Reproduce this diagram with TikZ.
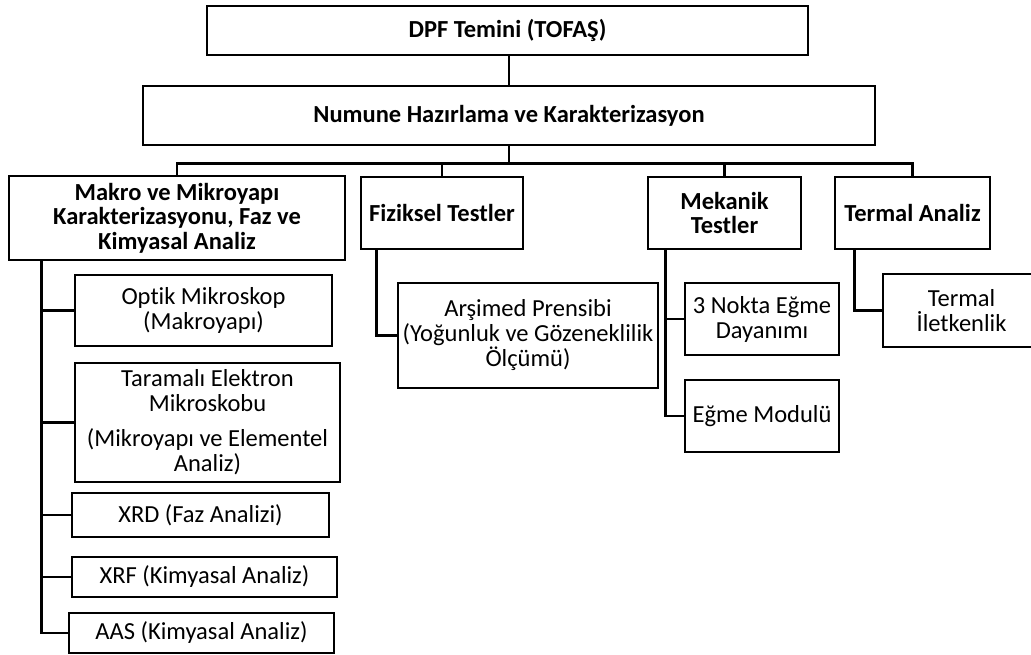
\documentclass[tikz,border=0pt]{standalone}
\usepackage{fontspec}
\setmainfont[Ligatures=NoCommon]{Carlito}
\begin{document}
\begin{tikzpicture}[x=1pt,y=-1pt,
  box/.style={draw=black, line width=2.6pt, fill=white, inner sep=0pt, align=center,
     font=\fontsize{24.5}{25}\selectfont},
  bbox/.style={box, font=\fontsize{24.5}{24.5}\selectfont\bfseries},
  conn/.style={draw=black, line width=2.6pt}]
\useasboundingbox (0,0) rectangle (1031,655);
\clip (0,0) rectangle (1031,655);
\fill[white] (0,0) rectangle (1031,655);
% level 0/1
\node[bbox, minimum width=601pt, minimum height=49pt] (top) at (507.5,30.5) {DPF Temini (TOFAŞ)};
\node[bbox, minimum width=732pt, minimum height=59pt] (num) at (509,115.5) {Numune Hazırlama ve Karakterizasyon};
% level 2
\node[bbox, minimum width=336pt, minimum height=84pt] (makro) at (177,218) {Makro ve Mikroyapı\\Karakterizasyonu, Faz ve\\Kimyasal Analiz};
\node[bbox, minimum width=162pt, minimum height=72pt] (fiz) at (442,213) {Fiziksel Testler};
\node[bbox, minimum width=153pt, minimum height=72pt] (mek) at (724.5,213) {Mekanik\\Testler};
\node[bbox, minimum width=155pt, minimum height=72pt] (term) at (912.5,213) {Termal Analiz};
% level 3
\node[box, minimum width=257pt, minimum height=71pt] (optik) at (203.5,310.5) {Optik Mikroskop\\(Makroyapı)};
\node[box, minimum width=265pt, minimum height=119pt] (tara) at (207.5,422.5) {Taramalı Elektron\\Mikroskobu\\[10pt](Mikroyapı ve Elementel\\Analiz)};
\node[box, minimum width=257pt, minimum height=44pt] (xrd) at (200.5,515) {XRD (Faz Analizi)};
\node[box, minimum width=265pt, minimum height=40pt] (xrf) at (204.5,577) {XRF (Kimyasal Analiz)};
\node[box, minimum width=265pt, minimum height=40pt] (aas) at (201.5,633) {AAS (Kimyasal Analiz)};
\node[box, minimum width=260pt, minimum height=105pt] (arsi) at (528,335.5) {Arşimed Prensibi\\(Yoğunluk ve Gözeneklilik\\Ölçümü)};
\node[box, minimum width=154pt, minimum height=72pt] (nokta) at (762,319) {3 Nokta Eğme\\Dayanımı};
\node[box, minimum width=154pt, minimum height=72pt] (egme) at (762,416) {Eğme Modulü};
\node[box, minimum width=157pt, minimum height=73pt] (ilet) at (961.5,310.5) {Termal\\İletkenlik};
% connectors
\draw[conn] (top.south -| num.north) -- (num.north);
\draw[conn] (num.south) -- ++(0,17) coordinate (bus);
\draw[conn] (bus) -| (makro.north);
\draw[conn] (bus) -| (fiz.north);
\draw[conn] (bus) -| (mek.north);
\draw[conn] (bus) -| (term.north);
\foreach \c in {optik,tara,xrd,xrf,aas}
  \draw[conn] ([xshift=34pt]makro.south west) |- (\c.west);
\draw[conn] ([xshift=17pt]fiz.south west) |- (arsi.west);
\draw[conn] ([xshift=19pt]mek.south west) |- (nokta.west);
\draw[conn] ([xshift=19pt]mek.south west) |- (egme.west);
\draw[conn] ([xshift=21pt]term.south west) |- (ilet.west);
\end{tikzpicture}
\end{document}
